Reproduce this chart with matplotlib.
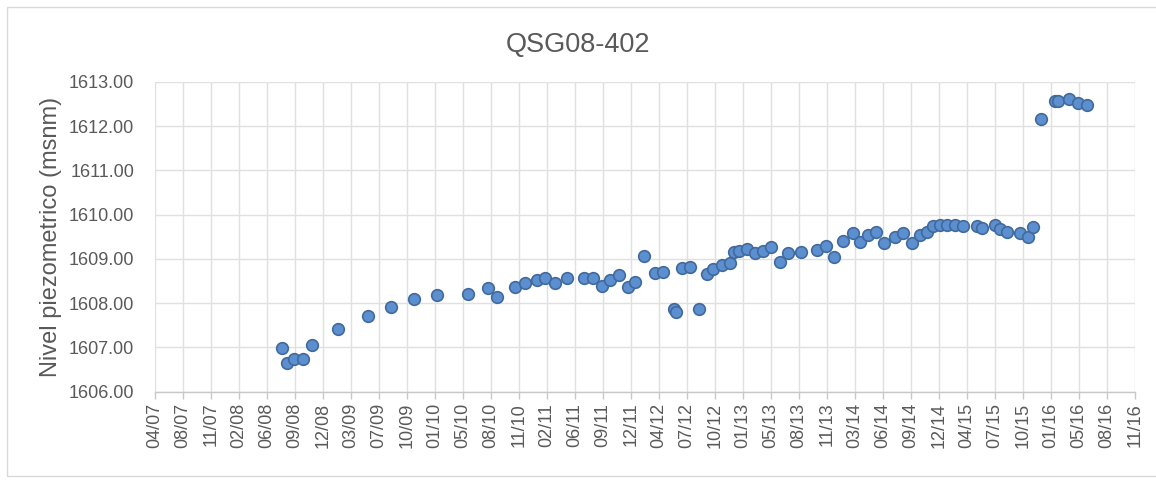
import matplotlib
matplotlib.use("Agg")
import matplotlib.pyplot as plt
import matplotlib.dates as mdates
from matplotlib.patches import Rectangle
import numpy as np
import datetime as dt

title = "QSG08-402"
ylabel = "Nivel piezometrico (msnm)"

dates = [
    "2008-07-23", "2008-08-10", "2008-09-06", "2008-10-09", "2008-11-10",
    "2009-02-11", "2009-05-27", "2009-08-18", "2009-11-09", "2010-01-30",
    "2010-05-19", "2010-07-31", "2010-09-02", "2010-11-04", "2010-12-09",
    "2011-01-20", "2011-02-19", "2011-03-27", "2011-05-07", "2011-07-09",
    "2011-08-10", "2011-09-09", "2011-10-09", "2011-11-11", "2011-12-13",
    "2012-01-06", "2012-02-09", "2012-03-18", "2012-04-16", "2012-05-26",
    "2012-06-01", "2012-06-21", "2012-07-21", "2012-08-23", "2012-09-18",
    "2012-10-12", "2012-11-11", "2012-12-11", "2012-12-26", "2013-01-10",
    "2013-02-08", "2013-03-10", "2013-04-09", "2013-05-06", "2013-06-07",
    "2013-07-07", "2013-08-20", "2013-10-18", "2013-11-17", "2013-12-17",
    "2014-01-19", "2014-02-22", "2014-03-20", "2014-04-19", "2014-05-16",
    "2014-06-14", "2014-07-23", "2014-08-22", "2014-09-20", "2014-10-20",
    "2014-11-13", "2014-12-07", "2014-12-31", "2015-01-23", "2015-02-22",
    "2015-03-24", "2015-05-11", "2015-05-28", "2015-07-15", "2015-08-02",
    "2015-08-26", "2015-10-12", "2015-11-11", "2015-11-29", "2015-12-25",
    "2016-02-13", "2016-02-24", "2016-04-04", "2016-05-05", "2016-06-07",
]
levels = [
    1606.99, 1606.64, 1606.75, 1606.75, 1607.06,
    1607.42, 1607.70, 1607.92, 1608.09, 1608.19,
    1608.20, 1608.34, 1608.13, 1608.36, 1608.45,
    1608.52, 1608.56, 1608.45, 1608.56, 1608.56,
    1608.56, 1608.40, 1608.52, 1608.64, 1608.37,
    1608.49, 1609.07, 1608.68, 1608.71, 1607.86,
    1607.81, 1608.79, 1608.81, 1607.88, 1608.66,
    1608.77, 1608.86, 1608.90, 1609.16, 1609.19,
    1609.22, 1609.14, 1609.19, 1609.26, 1608.94,
    1609.13, 1609.16, 1609.20, 1609.30, 1609.04,
    1609.41, 1609.58, 1609.39, 1609.54, 1609.60,
    1609.35, 1609.50, 1609.58, 1609.35, 1609.54,
    1609.62, 1609.75, 1609.77, 1609.77, 1609.77,
    1609.75, 1609.75, 1609.69, 1609.77, 1609.67,
    1609.62, 1609.58, 1609.50, 1609.73, 1612.16,
    1612.58, 1612.58, 1612.61, 1612.53, 1612.47,
]

xtick_labels = ["04/07", "08/07", "11/07", "02/08", "06/08", "09/08", "12/08", "03/09",
                "07/09", "10/09", "01/10", "05/10", "08/10", "11/10", "02/11", "06/11",
                "09/11", "12/11", "04/12", "07/12", "10/12", "01/13", "05/13", "08/13",
                "11/13", "03/14", "06/14", "09/14", "12/14", "04/15", "07/15", "10/15",
                "01/16", "05/16", "08/16", "11/16"]
axis_start = "2007-04-28"
major_unit_days = 100
yticks = [1606, 1607, 1608, 1609, 1610, 1611, 1612, 1613]

plt.rcParams['font.family'] = ['Liberation Sans', 'DejaVu Sans']
W, H = 1156, 483
fig = plt.figure(figsize=(W / 100, H / 100), dpi=100)
fig.patch.set_facecolor("white")

left, right, top, bottom = 155, 1135, 82, 391.7
ax = fig.add_axes([left / W, 1 - bottom / H, (right - left) / W, (bottom - top) / H])

x = mdates.date2num([dt.datetime.strptime(d, "%Y-%m-%d") for d in dates])
x0 = mdates.date2num(dt.datetime.strptime(axis_start, "%Y-%m-%d"))
ticks = x0 + major_unit_days * np.arange(len(xtick_labels))

ax.scatter(x, levels, s=70, facecolor="#5B8FD0", edgecolor="#41699C", linewidth=1.2, zorder=3)

ax.set_xlim(ticks[0], ticks[-1])
ax.set_ylim(1606, 1613)
ax.set_xticks(ticks)
ax.set_xticklabels(xtick_labels, rotation=90)
ax.set_yticks(yticks)
ax.set_yticklabels([f"{v:.2f}" for v in yticks])

ax.grid(True, color="#E0E0E0", linewidth=1.0, zorder=0)
ax.set_axisbelow(True)
for s in ["top", "right", "left"]:
    ax.spines[s].set_visible(False)
ax.spines["bottom"].set_color("#C8C8C8")
ax.spines["bottom"].set_linewidth(1.0)

ax.tick_params(axis="x", colors="#C8C8C8", length=5, width=1, labelcolor="#595959",
               labelsize=13, pad=3)
ax.tick_params(axis="y", length=0, labelcolor="#595959", labelsize=13, pad=15)

ax.set_ylabel(ylabel, fontsize=17, color="#595959", labelpad=5)
fig.text(578 / W, 1 - 45 / H, title, ha="center", va="center", fontsize=19.5, color="#595959")

fig.patches.append(Rectangle((7 / W, 1 - 476 / H), (1200 - 7) / W, (476 - 7) / H,
                             transform=fig.transFigure, fill=False,
                             edgecolor="#D9D9D9", linewidth=1.0))

fig.savefig("out.png", dpi=100, facecolor="white")
